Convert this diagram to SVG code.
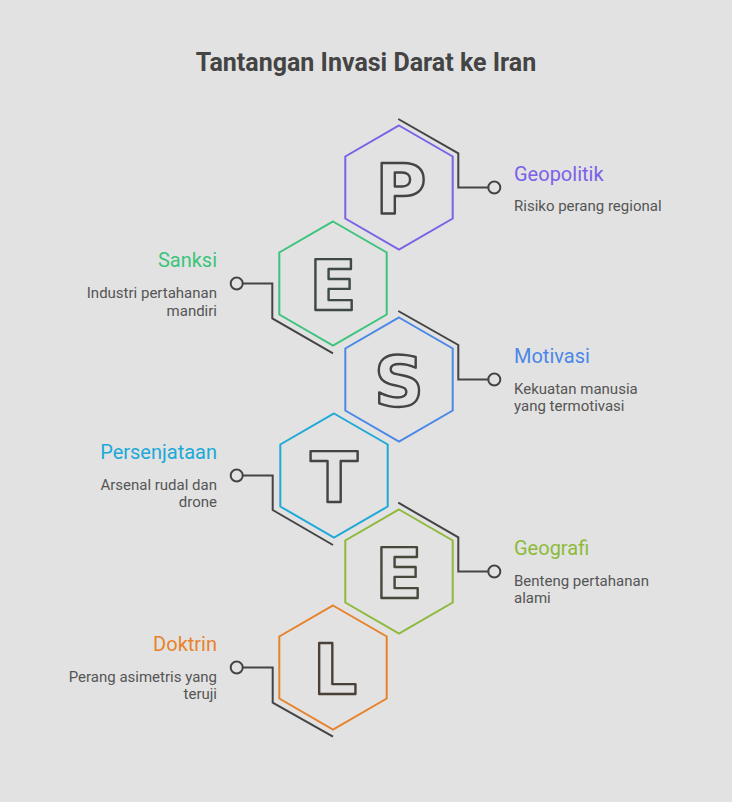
<svg xmlns="http://www.w3.org/2000/svg" xmlns:xlink="http://www.w3.org/1999/xlink" width="732" height="802" viewBox="0 0 732 802">
<style>
.hex{fill:none;stroke-width:2}
.con{fill:none;stroke:#444;stroke-width:2}
.dot{fill:#e2e2e2;stroke:#444;stroke-width:2}
.ttl{font-family:Roboto,"Liberation Sans",sans-serif;font-size:20px}
.dsc{font-family:Roboto,"Liberation Sans",sans-serif;font-size:15px;fill:#555}
.ltr{font-family:"DejaVu Sans","Liberation Sans",sans-serif;font-size:70px;font-weight:700;fill:none;stroke-width:2.4;stroke-linejoin:round;text-anchor:middle}
.l{text-anchor:end}
</style>
<defs>
<polygon id="hx" points="0,-62 53.7,-31 53.7,31 0,62 -53.7,31 -53.7,-31"/>
</defs>
<rect width="732" height="802" fill="#e2e2e2"/>
<text x="366" y="71" text-anchor="middle" font-family="Roboto,'Liberation Sans',sans-serif" font-size="25" font-weight="700" fill="#444">Tantangan Invasi Darat ke Iran</text>
<g id="connectors">
<path class="con" d="M398.3 119 L458.3 153.3 V187.5 H488.3"/>
<circle class="dot" cx="494.3" cy="187.5" r="6"/>
<path class="con" d="M242.7 283.5 H272.3 V318.3 L333 353.3"/>
<circle class="dot" cx="236.7" cy="283.5" r="6"/>
<path class="con" d="M398.3 311 L458.3 345 V379.5 H488.3"/>
<circle class="dot" cx="494.3" cy="379.5" r="6"/>
<path class="con" d="M242.7 475.5 H272.7 V510 L333 545"/>
<circle class="dot" cx="236.7" cy="475.5" r="6"/>
<path class="con" d="M398.3 502.7 L458.3 537.3 V571.5 H488.3"/>
<circle class="dot" cx="494.3" cy="571.5" r="6"/>
<path class="con" d="M242.7 667.5 H272.7 V702.7 L333 736.7"/>
<circle class="dot" cx="236.7" cy="667.5" r="6"/>
</g>
<g id="node-p">
<use xlink:href="#hx" href="#hx" x="399" y="187.5" class="hex" stroke="#7b61e8"/>
<text class="ltr" x="401" y="213.5" stroke="#444">P</text>
<text class="ttl" x="514" y="180.5" fill="#7b61e8">Geopolitik</text>
<text class="dsc" x="514" y="211">Risiko perang regional</text>
</g>
<g id="node-e1">
<use xlink:href="#hx" href="#hx" x="333" y="283.5" class="hex" stroke="#3cc47c"/>
<text class="ltr" x="333" y="309.5" stroke="#3f4a44">E</text>
<text class="ttl l" x="217" y="267" fill="#3cc47c">Sanksi</text>
<text class="dsc l" x="217" y="298">Industri pertahanan</text>
<text class="dsc l" x="217" y="315.5">mandiri</text>
</g>
<g id="node-s">
<use xlink:href="#hx" href="#hx" x="399" y="379.5" class="hex" stroke="#4a88e8"/>
<text class="ltr" x="399" y="405.5" stroke="#444">S</text>
<text class="ttl" x="514" y="363" fill="#4a88e8">Motivasi</text>
<text class="dsc" x="514" y="393.5">Kekuatan manusia</text>
<text class="dsc" x="514" y="411">yang termotivasi</text>
</g>
<g id="node-t">
<use xlink:href="#hx" href="#hx" x="334" y="475.5" class="hex" stroke="#20a9d8"/>
<text class="ltr" x="334" y="501.5" stroke="#444">T</text>
<text class="ttl l" x="217" y="459" fill="#20a9d8">Persenjataan</text>
<text class="dsc l" x="217" y="489.5">Arsenal rudal dan</text>
<text class="dsc l" x="217" y="507">drone</text>
</g>
<g id="node-e2">
<use xlink:href="#hx" href="#hx" x="399" y="571.5" class="hex" stroke="#8dba3a"/>
<text class="ltr" x="399" y="597.5" stroke="#48483c">E</text>
<text class="ttl" x="514" y="555" fill="#8dba3a">Geografi</text>
<text class="dsc" x="514" y="585.5">Benteng pertahanan</text>
<text class="dsc" x="514" y="603">alami</text>
</g>
<g id="node-l">
<use xlink:href="#hx" href="#hx" x="333" y="667.5" class="hex" stroke="#e8822a"/>
<text class="ltr" x="335" y="693.5" stroke="#4a4038">L</text>
<text class="ttl l" x="217" y="651" fill="#e8822a">Doktrin</text>
<text class="dsc l" x="217" y="681.5">Perang asimetris yang</text>
<text class="dsc l" x="217" y="699">teruji</text>
</g>
</svg>
